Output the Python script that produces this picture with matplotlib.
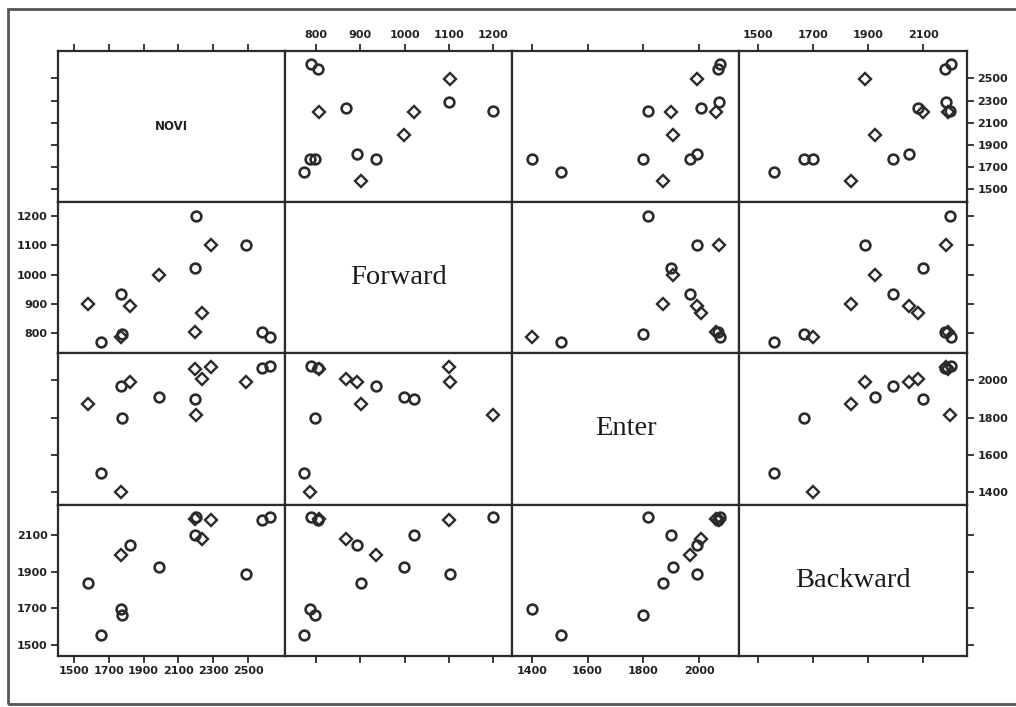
import matplotlib
matplotlib.use("Agg")
import matplotlib.pyplot as plt
from matplotlib.patches import Rectangle

# ---- data (15 observations) ----
variables = ["NOVI", "Forward", "Enter", "Backward"]
novi     = [2625, 2580, 2203, 2285, 2490, 2196, 1990, 1770, 1578, 1820, 2237, 1772, 1775, 2197, 1655]
forward  = [788, 804, 1200, 1100, 1102, 1021, 999, 935, 901, 893, 868, 787, 798, 806, 772]
enter    = [2075, 2066, 1815, 2073, 1992, 1900, 1908, 1968, 1872, 1991, 2007, 1400, 1798, 2060, 1505]
backward = [2201, 2180, 2199, 2183, 1887, 2098, 1925, 1991, 1836, 2047, 2080, 1698, 1666, 2190, 1557]

# marker symbol of each observation, per row (y variable): 0 = circle, 1 = diamond
symbol_row_novi     = [0, 0, 0, 0, 1, 1, 1, 0, 1, 0, 0, 0, 0, 1, 0]
symbol_row_forward  = [0, 0, 0, 1, 0, 0, 1, 0, 1, 1, 1, 1, 0, 1, 0]
symbol_row_enter    = [0, 0, 1, 1, 1, 0, 0, 0, 1, 1, 1, 1, 0, 1, 0]
symbol_row_backward = [0, 0, 0, 1, 0, 0, 0, 1, 0, 0, 1, 0, 0, 1, 0]

ticks_novi = [1500, 1700, 1900, 2100, 2300, 2500]
ticks_forward = [800, 900, 1000, 1100, 1200]
ticks_enter = [1400, 1600, 1800, 2000]
ticks_backward = [1500, 1700, 1900, 2100]

data = [novi, forward, enter, backward]
symbols = [symbol_row_novi, symbol_row_forward, symbol_row_enter, symbol_row_backward]
ticks = [ticks_novi, ticks_forward, ticks_enter, ticks_backward]

# axis ranges (scale), x for columns and y for rows
xlims = [(1408, 2713), (730, 1242), (1329, 2143), (1430, 2259)]
ylims = [(1386, 2749), (734, 1247), (1332, 2147), (1440, 2264)]

# ---- layout ----
W, H = 1016, 707
fig = plt.figure(figsize=(W / 100, H / 100), dpi=100)
fig.patch.set_facecolor("white")

col_edges = [58, 285, 512, 739, 967]
row_edges = [50.7, 202, 352.7, 505, 656]

ink = "#2b2b2b"
tick_font = dict(family="DejaVu Sans", weight="bold", size=8)

# outer frame
fig.patches.append(Rectangle((7.5 / W, 3 / H), 1.2, 1 - 3 / H - 9 / H,
                             transform=fig.transFigure, fill=False,
                             edgecolor="#555555", linewidth=2.0))

n = 4
for r in range(n):
    for c in range(n):
        x0 = col_edges[c] / W
        w = (col_edges[c + 1] - col_edges[c]) / W
        y0 = 1 - row_edges[r + 1] / H
        h = (row_edges[r + 1] - row_edges[r]) / H
        ax = fig.add_axes([x0, y0, w, h])
        ax.set_facecolor("white")
        for s in ax.spines.values():
            s.set_linewidth(1.6)
            s.set_color(ink)
        ax.set_xlim(*xlims[c])
        ax.set_ylim(*ylims[r])
        ax.set_xticks(ticks[c])
        ax.set_yticks(ticks[r])
        ax.tick_params(axis="both", direction="out", length=5, width=1.3,
                       color=ink, pad=2.5)
        # outer ticks only
        ax.tick_params(axis="x", top=(r == 0), bottom=(r == n - 1),
                       labeltop=(r == 0 and c % 2 == 1),
                       labelbottom=(r == n - 1 and c % 2 == 0))
        ax.tick_params(axis="y", left=(c == 0), right=(c == n - 1),
                       labelleft=(c == 0 and r % 2 == 1),
                       labelright=(c == n - 1 and r % 2 == 0))
        for lab in ax.get_xticklabels() + ax.get_yticklabels():
            lab.set_fontfamily(tick_font["family"])
            lab.set_fontweight(tick_font["weight"])
            lab.set_fontsize(tick_font["size"])
            lab.set_color("#222222")

        if r == c:
            name = variables[r]
            if r == 0:
                ax.text(0.5, 0.5, name, transform=ax.transAxes, ha="center",
                        va="center", fontsize=8.5, fontweight="bold",
                        family="DejaVu Sans", color="#222222")
            else:
                ax.text(0.5, 0.5, name, transform=ax.transAxes, ha="center",
                        va="center", fontsize=20.5, family="Liberation Serif",
                        color="#1a1a1a")
            continue

        xs = data[c]
        ys = data[r]
        sym = symbols[r]
        cx = [x for x, s in zip(xs, sym) if s == 0]
        cy = [y for y, s in zip(ys, sym) if s == 0]
        dx = [x for x, s in zip(xs, sym) if s == 1]
        dy = [y for y, s in zip(ys, sym) if s == 1]
        ax.plot(cx, cy, linestyle="none", marker="o", markersize=7,
                markerfacecolor="none", markeredgecolor=ink, markeredgewidth=1.9)
        ax.plot(dx, dy, linestyle="none", marker="D", markersize=6,
                markerfacecolor="none", markeredgecolor=ink, markeredgewidth=1.7)

fig.savefig("out.png", dpi=100, facecolor="white")
